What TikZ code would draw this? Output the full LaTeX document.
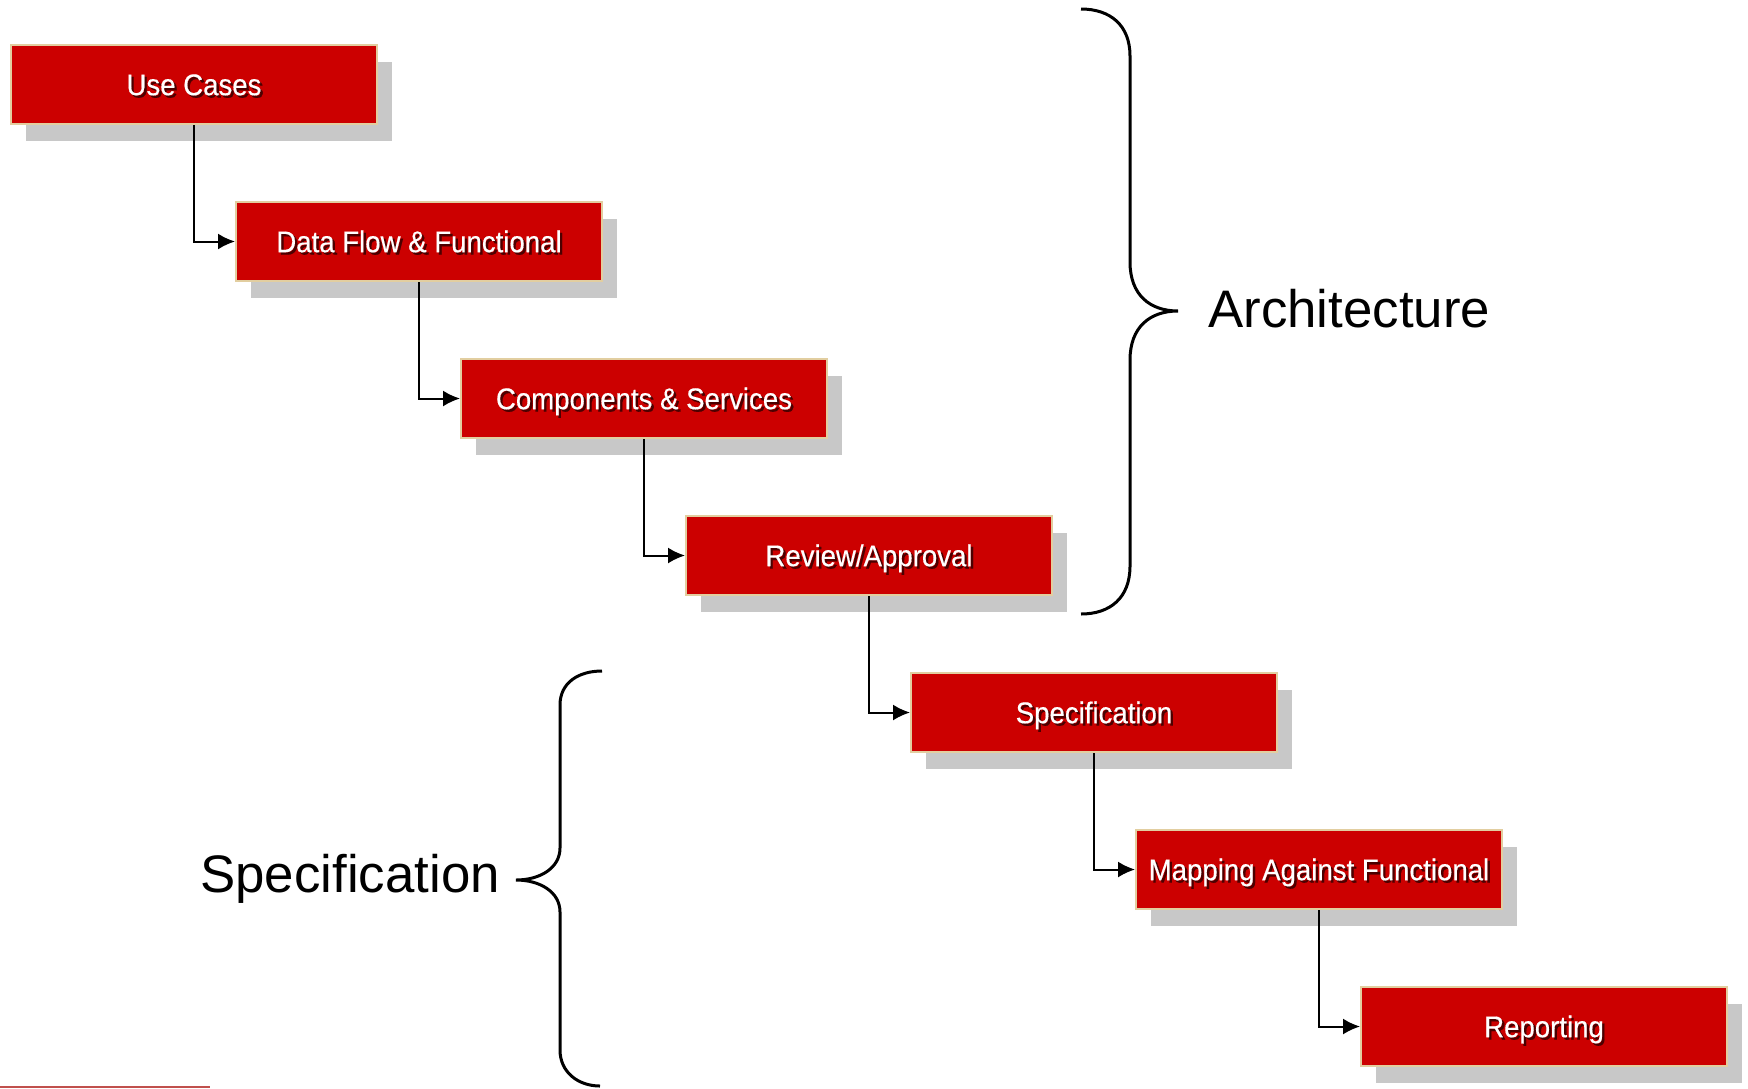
\documentclass[tikz,border=0pt]{standalone}
\usepackage{fontspec}
\setmainfont{Liberation Sans}
\newfontfamily\narrowfont[FakeStretch=0.92,FakeBold=0.4]{Liberation Sans}
\usetikzlibrary{arrows.meta,shadows}
\definecolor{stagered}{HTML}{CC0000}
\definecolor{stageedge}{RGB}{226,206,160}
\definecolor{shadowgray}{HTML}{C8C8C8}
\definecolor{rulered}{HTML}{C0504D}
\newcommand{\txtshadow}[1]{\rlap{\kern1.2pt\raisebox{-1.2pt}{\color{black!70!red}#1}}#1}
\begin{document}
\begin{tikzpicture}[x=0.5pt, y=-0.5pt,
  stage/.style = {rectangle, fill=stagered, draw=stageedge, line width=1pt,
    minimum width=183pt, minimum height=39.5pt, inner sep=0pt,
    text=white, font=\narrowfont\fontsize{15}{16}\selectfont,
    text height=10.7pt, text depth=0pt,
    drop shadow={shadow xshift=7.5pt, shadow yshift=-8.5pt, fill=shadowgray, draw=none, opacity=1}},
  link/.style = {line width=1pt, -{Latex[length=8.5pt,width=8pt]}},
  brace/.style = {line width=1.5pt},
  bigtext/.style = {font=\fontsize{26.4}{30}\selectfont, inner sep=0pt}]
\useasboundingbox (0,0) rectangle (1748,1088);
\node[stage] (usecase) at (194, 84.5) {\txtshadow{Use Cases}};
\node[stage] (dataflow) at (419, 241.5) {\txtshadow{Data Flow \& Functional}};
\node[stage] (compsvc) at (644, 398.5) {\txtshadow{Components \& Services}};
\node[stage] (review) at (869, 555.5) {\txtshadow{Review/Approval}};
\node[stage] (spec) at (1094, 712.5) {\txtshadow{Specification}};
\node[stage] (mapping) at (1319, 869.5) {\txtshadow{Mapping Against Functional}};
\node[stage] (report) at (1544, 1026.5) {\txtshadow{Reporting}};
\draw[link] (usecase.south) |- (dataflow.west);
\draw[link] (dataflow.south) |- (compsvc.west);
\draw[link] (compsvc.south) |- (review.west);
\draw[link] (review.south) |- (spec.west);
\draw[link] (spec.south) |- (mapping.west);
\draw[link] (mapping.south) |- (report.west);
% braces
\draw[brace] (1081,9) .. controls (1110,9) and (1130,25) .. (1130,56) -- (1130,262)
  .. controls (1130,295) and (1150,311) .. (1178,311)
  .. controls (1150,311) and (1130,327) .. (1130,360) -- (1130,566)
  .. controls (1130,598) and (1110,614) .. (1081,614);
\node[bigtext, anchor=base west] (archlabel) at (1208,327) {Architecture};
\draw[brace] (602,671) .. controls (578,671) and (560,683) .. (560,705) -- (560,848)
  .. controls (560,868) and (540,880) .. (516,880)
  .. controls (540,880) and (560,892) .. (560,912) -- (560,1050)
  .. controls (560,1072) and (578,1086) .. (600,1086);
\node[bigtext, anchor=base west] (speclabel) at (200,892) {Specification};
\draw[rulered, line width=1.2pt] (0,1087) -- (210,1087);
\end{tikzpicture}
\end{document}
